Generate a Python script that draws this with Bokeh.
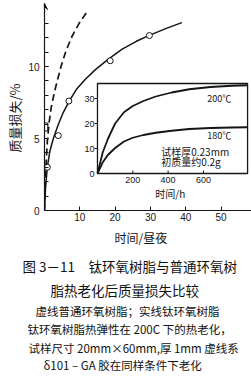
from bokeh.plotting import figure
from bokeh.models import Range1d, FixedTicker, Arrow, VeeHead, Title
from bokeh.layouts import column
from bokeh.core.properties import value
from bokeh.embed import file_html
from bokeh.resources import INLINE

# ---------------- data ----------------
# main chart: mass loss (%) vs time (days)
days_ordinary = [0, 0.3, 0.8, 1.3, 1.9, 2.7, 3.6, 4.8, 6.1, 7.8, 9.8, 11.9]
loss_ordinary = [0, 2.6, 4.8, 6.1, 7.15, 8.1, 9.0, 10.1, 11.1, 12.1, 13.0, 13.75]
square_day = [0.35]
square_loss = [5.8]

days_ti_curve = [0, 0.3, 0.8, 1.5, 2.5, 3.8, 5.3, 7.0, 9.0, 11.5, 14.5, 18.0, 22.0, 26.0, 30.0, 34.5, 38.9]
loss_ti_curve = [0, 1.6, 3.0, 4.1, 5.0, 5.9, 6.8, 7.6, 8.4, 9.1, 9.8, 10.5, 11.2, 11.75, 12.2, 12.65, 13.05]
days_ti_pts = [0.8, 3.9, 6.9, 18.6, 29.7]
loss_ti_pts = [3.0, 5.2, 7.6, 10.4, 12.15]

x_ticks = [10, 20, 30, 40, 50]
y_major = [0, 5, 10]
y_minor = list(range(1, 14))

# inset: mass loss (%) vs time (h)
inset_hours = [0, 30, 60, 100, 150, 200, 260, 330, 420, 520, 640, 760, 850]
inset_200 = [0, 8.5, 14.0, 20.0, 24.5, 27.0, 29.0, 30.8, 32.4, 33.7, 34.6, 35.1, 35.3]
inset_180 = [0, 4.5, 7.5, 10.2, 12.8, 14.3, 15.4, 16.3, 17.1, 17.8, 18.2, 18.4, 18.5]
inset_x_ticks = [200, 400, 600]
inset_y_ticks = [0, 10, 20, 30]
INSET_X_MAX = 850
INSET_Y_MAX = 36

caption_big = ["图 3－11　钛环氧树脂与普通环氧树", "脂热老化后质量损失比较"]
caption_small = ["虚线普通环氧树脂；实线钛环氧树脂",
                 "钛环氧树脂热弹性在 200C 下的热老化，",
                 "试样尺寸 20mm×60mm,厚 1mm 虚线系",
                 "δ101 – GA 胶在同样条件下老化"]

# ---------------- layout ----------------
INK = "#151515"
CJK_NAME = "Noto Sans CJK SC"
NUM_NAME = "Liberation Sans"
CJK = value(CJK_NAME)
NUM = value(NUM_NAME)
W, H_MAIN, H_CAP = 251, 250, 130
FL, FR, FT, FB = 40, 251, 3, 210
X_PER, Y_PER = 3.6, 14.4
IL, IR, IT, IB = 94, 247, 83, 173
ku = (IR - IL) / INSET_X_MAX
kv = (IB - IT) / INSET_Y_MAX

def dy(py): return (FB - py) / Y_PER
def ux(px): return (px - IL) / ku
def vy(py): return (IB - py) / kv

p = figure(width=W, height=H_MAIN, output_backend="svg", toolbar_location=None,
           x_range=Range1d(0, (FR - FL) / X_PER), y_range=Range1d(0, (FB - FT) / Y_PER),
           min_border_left=FL, min_border_right=W - FR, min_border_top=FT,
           min_border_bottom=H_MAIN - FB, frame_align=False)
p.extra_x_ranges = {"ix": Range1d(-(IL - FL) / ku, (FR - IL) / ku)}
p.extra_y_ranges = {"iy": Range1d(-(FB - IB) / kv, (IB - FT) / kv)}
p.outline_line_color = None
p.grid.visible = False
p.background_fill_color = "white"
p.border_fill_color = "white"

for ax in (p.xaxis, p.yaxis):
    ax.axis_line_color = INK
    ax.axis_line_width = 1.2
    ax.major_tick_line_color = INK
    ax.minor_tick_line_color = INK
    ax.major_tick_out = 0
    ax.major_tick_in = 4
    ax.minor_tick_out = 0
    ax.major_label_text_font = NUM_NAME
    ax.major_label_text_font_size = "10px"
    ax.major_label_text_color = INK
p.xaxis.ticker = FixedTicker(ticks=x_ticks)
p.xaxis.minor_tick_in = 0
p.xaxis.major_label_standoff = 2
p.yaxis.ticker = FixedTicker(ticks=y_major, minor_ticks=y_minor)
p.yaxis.minor_tick_in = 4
p.yaxis.major_label_standoff = 5

# axis titles (side titles, anchored at their start and shifted along the axis)
p.add_layout(Title(text="质量损失/%", align="left", offset=FB - 152, standoff=4,
                   text_font=CJK_NAME, text_font_size="13px", text_font_style="normal",
                   text_color=INK), "left")
p.add_layout(Title(text="时间/昼夜", align="left", offset=110 - FL, standoff=6,
                   text_font=CJK_NAME, text_font_size="12px", text_font_style="normal",
                   text_color=INK), "below")

# main curves
p.line(days_ordinary, loss_ordinary, line_color=INK, line_width=1.7, line_dash="7 4")
p.rect(square_day, square_loss, width=4, height=8, width_units="screen", height_units="screen",
       fill_color="white", line_color=INK, line_width=1)
p.line(days_ti_curve, loss_ti_curve, line_color=INK, line_width=1.5)
p.scatter(days_ti_pts, loss_ti_pts, marker="circle", size=6, fill_color="white",
          line_color=INK, line_width=1)

# y-axis arrow
p.add_layout(Arrow(end=VeeHead(size=6, fill_color=INK, line_color=INK, line_width=1),
                   x_start=0, y_start=dy(12), x_end=0, y_end=dy(FT),
                   line_color=INK, line_width=1.2))

# ---------------- inset ----------------
R = dict(x_range_name="ix", y_range_name="iy")
p.quad(left=0, right=INSET_X_MAX, bottom=0, top=INSET_Y_MAX, fill_color="white",
       line_color=INK, line_width=1.3, **R)
p.segment(x0=inset_x_ticks, y0=[0] * len(inset_x_ticks), x1=inset_x_ticks,
          y1=[3 / kv] * len(inset_x_ticks), line_color=INK, line_width=1, **R)
p.segment(x0=[-3 / ku] * 3, y0=inset_y_ticks[1:], x1=[0] * 3, y1=inset_y_ticks[1:],
          line_color=INK, line_width=1, **R)
p.line(inset_hours, inset_200, line_color=INK, line_width=1.8, **R)
p.line(inset_hours, inset_180, line_color=INK, line_width=1.8, **R)
p.text(x=inset_x_ticks, y=[vy(179)] * len(inset_x_ticks), text=[str(t) for t in inset_x_ticks],
       text_align="center", text_baseline="middle", text_font=NUM, text_font_size="9px",
       text_color=INK, **R)
p.text(x=[ux(91)] * len(inset_y_ticks), y=inset_y_ticks, text=[str(t) for t in inset_y_ticks],
       text_align="right", text_baseline="middle", text_font=NUM, text_font_size="9px",
       text_color=INK, **R)
p.text(x=[ux(206), ux(206)], y=[vy(98), vy(135)], text=["200℃", "180℃"],
       text_align="left", text_baseline="middle", text_font=CJK, text_font_size="9px",
       text_color=INK, **R)
p.text(x=[ux(159), ux(159)], y=[vy(151), vy(161)], text=["试样厚0.23mm", "初质量约0.2g"],
       text_align="left", text_baseline="middle", text_font=CJK, text_font_size="10px",
       text_color=INK, **R)
p.text(x=[ux(153)], y=[vy(193)], text=["时间/h"], text_align="left", text_baseline="middle",
       text_font=CJK, text_font_size="10px", text_color=INK, **R)

# ---------------- caption ----------------
cap = figure(width=W, height=H_CAP, output_backend="svg", toolbar_location=None,
             x_range=Range1d(0, W), y_range=Range1d(H_CAP, 0), min_border=0,
             x_axis_location=None, y_axis_location=None, frame_align=False)
cap.outline_line_color = None
cap.grid.visible = False
cap.background_fill_color = "white"
cap.border_fill_color = "white"
cap.text(x=[22, 50], y=[15, 39], text=caption_big, text_align="left",
         text_baseline="middle", text_font=CJK, text_font_size="13.5px", text_color="#111111")
cap.text(x=[35, 27, 28, 43], y=[60, 78, 97, 114], text=caption_small,
         text_align="left", text_baseline="middle", text_font=CJK, text_font_size="11.5px",
         text_color="#111111")

layout = column(p, cap, spacing=0)
open("out.html", "w").write(file_html(layout, INLINE))
